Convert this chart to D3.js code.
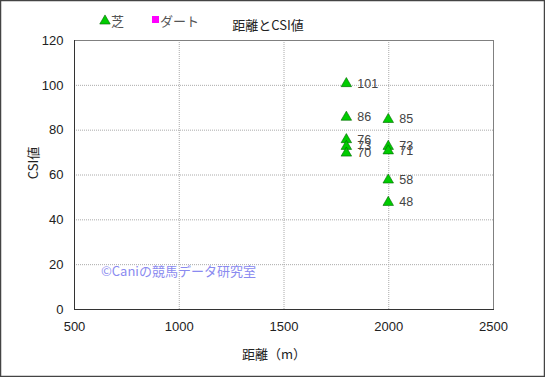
<!DOCTYPE html>
<html>
<head>
<meta charset="utf-8">
<script src="https://cdn.jsdelivr.net/npm/d3@7"></script>
<style>
body { margin:0; background:#fff; }
text { font-family: "Noto Sans CJK JP", "DejaVu Sans", sans-serif; }
</style>
</head>
<body>
<svg id="chart" width="545" height="377"></svg>
<script>
// 芝 series (distance, CSI)
var turfDist = [1800, 1800, 1800, 1800, 1800, 2000, 2000, 2000, 2000, 2000];
var turfCSI  = [101, 86, 76, 73, 70, 85, 73, 71, 58, 48];
// ダート series (no points)
var dirtDist = [];
var dirtCSI = [];
var xTicks = [500, 1000, 1500, 2000, 2500];
var yTicks = [0, 20, 40, 60, 80, 100, 120];

var svg = d3.select("#chart");
var W = 545, H = 377;

svg.append("rect").attr("x",0.5).attr("y",0.5).attr("width",W-1).attr("height",H-1)
	.attr("fill","#fff").attr("stroke","#444").attr("stroke-width",1.5);

var x = d3.scaleLinear().domain([500,2500]).range([74,493]);
var y = d3.scaleLinear().domain([0,120]).range([309,40]);

// grid
svg.append("g").selectAll("line").data(xTicks.slice(1,-1)).enter().append("line")
	.attr("x1",function(d){return x(d)+0.5;}).attr("x2",function(d){return x(d)+0.5;})
	.attr("y1",y(120)).attr("y2",y(0))
	.attr("stroke","#aaa").attr("stroke-dasharray","1,1");
svg.append("g").selectAll("line").data(yTicks.slice(1,-1)).enter().append("line")
	.attr("x1",x(500)).attr("x2",x(2500))
	.attr("y1",function(d){return y(d)+0.5;}).attr("y2",function(d){return y(d)+0.5;})
	.attr("stroke","#aaa").attr("stroke-dasharray","1,1");

// frame
svg.append("rect").attr("x",x(500)+0.5).attr("y",y(120)+0.5)
	.attr("width",x(2500)-x(500)).attr("height",y(0)-y(120))
	.attr("fill","none").attr("stroke","#808080");
svg.append("line").attr("x1",x(500)+0.5).attr("x2",x(500)+0.5).attr("y1",y(120)).attr("y2",y(0)+1).attr("stroke","#333");
svg.append("line").attr("x1",x(500)).attr("x2",x(2500)+1).attr("y1",y(0)+0.5).attr("y2",y(0)+0.5).attr("stroke","#333");

// axes (labels only)
var xAxis = svg.append("g").attr("transform","translate(0,"+(y(0)+0.5)+")")
	.call(d3.axisBottom(x).tickValues(xTicks).tickFormat(d3.format("d")).tickSize(0).tickPadding(12));
var yAxis = svg.append("g").attr("transform","translate("+(x(500)+0.5)+",0)")
	.call(d3.axisLeft(y).tickValues(yTicks).tickSize(0).tickPadding(11));
[xAxis, yAxis].forEach(function(a) {
	a.select(".domain").remove();
	a.selectAll("text").attr("font-size",13).attr("fill","#222")
		.style("font-family","'Liberation Sans', Arial, sans-serif");
});

// titles
svg.append("text").attr("x",268).attr("y",30).attr("text-anchor","middle")
	.attr("font-size",13).attr("fill","#222").text("距離とCSI値");
svg.append("text").attr("x",274).attr("y",359).attr("text-anchor","middle")
	.attr("font-size",13).attr("fill","#222").text("距離（m）");
svg.append("text").attr("transform","translate(38,163) rotate(-90)").attr("text-anchor","middle")
	.attr("font-size",13).attr("fill","#222").text("CSI値");

// legend
var tri = d3.symbol().type(d3.symbolTriangle).size(48);
svg.append("path").attr("d",tri).attr("transform","translate(105,21)")
	.attr("fill","#00cc00").attr("stroke","#006600").attr("stroke-width",0.6);
svg.append("text").attr("x",111).attr("y",26).attr("font-size",13).attr("fill","#555").text("芝");
svg.append("rect").attr("x",152).attr("y",16).attr("width",7).attr("height",7).attr("fill","#ff00ff");
svg.append("text").attr("x",160).attr("y",26).attr("font-size",13).attr("fill","#555").text("ダート");

// watermark
svg.append("text").attr("x",101).attr("y",276).attr("font-size",13).attr("fill","#8a8af0")
	.text("©Caniの競馬データ研究室");

// points
var pts = turfDist.map(function(d,i){ return {d:d, v:turfCSI[i]}; });
svg.append("g").selectAll("path").data(pts).enter().append("path")
	.attr("d",tri)
	.attr("transform",function(p){ return "translate("+x(p.d)+","+(y(p.v)+1)+")"; })
	.attr("fill","#00cc00").attr("stroke","#006600").attr("stroke-width",0.6);
svg.append("g").selectAll("text").data(pts).enter().append("text")
	.attr("x",function(p){ return x(p.d)+11; })
	.attr("y",function(p){ return y(p.v)+5; })
	.attr("font-size",12.5).attr("fill","#444")
	.style("font-family","'Liberation Sans', Arial, sans-serif")
	.text(function(p){ return p.v; });
</script>
</body>
</html>
